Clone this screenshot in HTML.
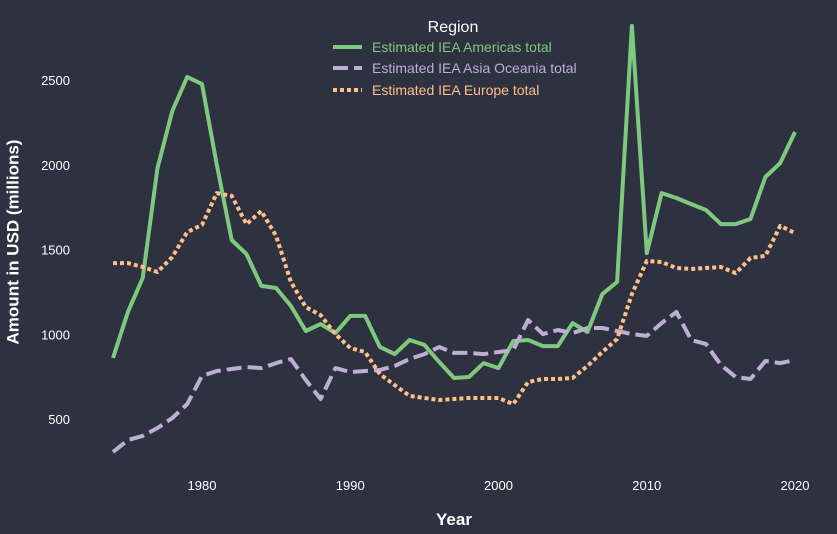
<!DOCTYPE html>
<html><head><meta charset="utf-8"><style>
body{margin:0;background:#2d3140;}
svg{display:block;font-family:"Liberation Sans",Arial,sans-serif;}
</style></head><body>
<svg id="chart" width="837" height="534" viewBox="0 0 837 534">
<rect x="0" y="0" width="837" height="534" fill="#2d3140"/>
<g id="yticks"></g>
<g id="xticks"></g>
<g id="lines"></g>
<text x="14" y="242" transform="rotate(-90 14 242)" text-anchor="middle" dominant-baseline="middle" fill="#fff" font-size="17" font-weight="bold">Amount in USD (millions)</text>
<text x="454" y="525" text-anchor="middle" fill="#fff" font-size="17" font-weight="bold">Year</text>
<g>
<text x="453" y="32" text-anchor="middle" fill="#fff" font-size="16">Region</text>
<g><line x1="333" y1="47" x2="362" y2="47" stroke="#7fc97f" stroke-width="4"/><text x="372" y="52" fill="#7fc97f" font-size="14">Estimated IEA Americas total</text></g>
<g><line x1="333" y1="68" x2="362" y2="68" stroke="#beaed4" stroke-width="4" stroke-dasharray="15 6"/><text x="372" y="73" fill="#beaed4" font-size="14">Estimated IEA Asia Oceania total</text></g>
<g><line x1="333" y1="90" x2="362" y2="90" stroke="#fdc086" stroke-width="4" stroke-dasharray="4 3"/><text x="372" y="95" fill="#fdc086" font-size="14">Estimated IEA Europe total</text></g>
</g>
</svg>
<script>
const years = [];
for (let y = 1974; y <= 2020; y++) years.push(y);
const americas = [860,1131,1332,1981,2317,2518,2476,2000,1556,1473,1285,1273,1167,1019,1060,1007,1108,1108,925,883,966,937,836,742,748,830,800,960,966,930,930,1066,1013,1237,1308,2819,1479,1833,1804,1768,1733,1650,1650,1680,1928,2010,2193];
const asiaOceania = [305,376,400,447,506,588,754,783,795,807,800,830,854,730,618,800,777,783,789,813,854,883,925,890,890,883,895,907,1084,1001,1025,1007,1037,1037,1019,1001,990,1066,1131,966,942,819,748,736,842,830,848];
const europe = [1420,1420,1397,1367,1456,1603,1645,1833,1816,1650,1727,1580,1308,1160,1113,1001,919,895,765,700,636,624,612,618,624,624,624,588,718,736,736,742,813,895,972,1237,1432,1426,1391,1385,1391,1397,1361,1450,1462,1639,1597];
const yTicks = [500,1000,1500,2000,2500];
const xTicks = [1980,1990,2000,2010,2020];

const NS = "http://www.w3.org/2000/svg";
function xs(yr){ return 202 + (yr - 1980) * (795 - 202) / 40; }
function ys(v){ return 419 - (v - 500) * (419 - 80) / 2000; }

const yg = document.getElementById('yticks');
yTicks.forEach(t => {
  const el = document.createElementNS(NS, 'text');
  
  
  el.setAttribute('x', 70); el.setAttribute('y', ys(t) + 5);
  el.setAttribute('text-anchor', 'end'); el.setAttribute('fill', '#fff'); el.setAttribute('font-size', '13');
  el.textContent = t; yg.appendChild(el);
});
const xg = document.getElementById('xticks');
xTicks.forEach(t => {
  const el = document.createElementNS(NS, 'text');
  
  
  el.setAttribute('x', xs(t)); el.setAttribute('y', 490);
  el.setAttribute('text-anchor', 'middle'); el.setAttribute('fill', '#fff'); el.setAttribute('font-size', '13');
  el.textContent = t; xg.appendChild(el);
});
const lg = document.getElementById('lines');
function drawLine(vals, color, dash, name){
  const p = document.createElementNS(NS, 'polyline');
  
  
  p.setAttribute('points', vals.map((v,i) => xs(years[i]).toFixed(1) + ',' + ys(v).toFixed(1)).join(' '));
  p.setAttribute('fill', 'none'); p.setAttribute('stroke', color); p.setAttribute('stroke-width', '4');
  p.setAttribute('stroke-linejoin', 'round');
  if (dash) p.setAttribute('stroke-dasharray', dash);
  lg.appendChild(p);
}
drawLine(americas, '#7fc97f', null, 'americas-line');
drawLine(asiaOceania, '#beaed4', '15 6', 'asia-oceania-line');
drawLine(europe, '#fdc086', '4 3', 'europe-line');
</script>
</body></html>
